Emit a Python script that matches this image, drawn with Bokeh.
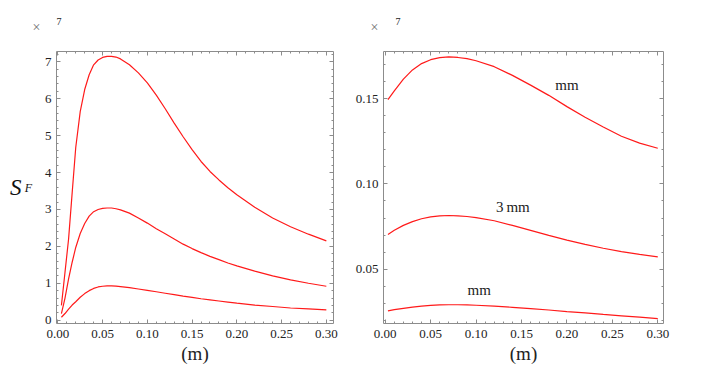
from bokeh.plotting import figure
from bokeh.layouts import row
from bokeh.models import (Range1d, LinearAxis, SingleIntervalTicker, NumeralTickFormatter,
                          CustomJSTickFormatter, Label, Title)
from bokeh.embed import file_html
from bokeh.resources import INLINE

# ---------------- data ----------------
x_left = [0.004, 0.008, 0.012, 0.016, 0.020, 0.025, 0.030, 0.035, 0.040, 0.045, 0.050, 0.055,
          0.060, 0.065, 0.070, 0.080, 0.090, 0.100, 0.110, 0.120, 0.130, 0.140, 0.150, 0.160,
          0.170, 0.180, 0.190, 0.200, 0.220, 0.240, 0.260, 0.280, 0.300]
sf_top = [0.40, 1.30, 2.20, 3.45, 4.68, 5.65, 6.25, 6.65, 6.92, 7.05, 7.12, 7.15,
          7.15, 7.13, 7.08, 6.92, 6.70, 6.43, 6.10, 5.73, 5.34, 4.97, 4.62, 4.30,
          4.03, 3.80, 3.59, 3.40, 3.06, 2.77, 2.53, 2.33, 2.15]
sf_mid = [0.18, 0.60, 1.12, 1.57, 1.97, 2.35, 2.62, 2.82, 2.94, 3.00, 3.03, 3.04,
          3.04, 3.02, 2.99, 2.90, 2.77, 2.63, 2.48, 2.34, 2.20, 2.06, 1.94, 1.83,
          1.73, 1.64, 1.55, 1.47, 1.33, 1.20, 1.09, 1.00, 0.92]
sf_bot = [0.08, 0.18, 0.30, 0.41, 0.50, 0.62, 0.72, 0.80, 0.86, 0.90, 0.92, 0.93,
          0.93, 0.925, 0.91, 0.88, 0.845, 0.81, 0.77, 0.73, 0.69, 0.65, 0.62, 0.58,
          0.55, 0.52, 0.49, 0.46, 0.41, 0.37, 0.33, 0.305, 0.28]

x_right = [0.003, 0.01, 0.02, 0.03, 0.04, 0.05, 0.06, 0.07, 0.08, 0.09, 0.10, 0.12, 0.14,
           0.16, 0.18, 0.20, 0.22, 0.24, 0.26, 0.28, 0.30]
r_top = [0.1494, 0.1545, 0.1614, 0.1668, 0.1705, 0.1728, 0.1740, 0.1744, 0.1741, 0.1734,
         0.1722, 0.1687, 0.1636, 0.1579, 0.1519, 0.1453, 0.1391, 0.1334, 0.1279, 0.1239, 0.1209]
r_mid = [0.0704, 0.0728, 0.0757, 0.0779, 0.0796, 0.0807, 0.0813, 0.0815, 0.0813, 0.0809,
         0.0802, 0.0784, 0.0757, 0.0728, 0.0698, 0.0671, 0.0646, 0.0623, 0.0603, 0.0587, 0.0572]
r_bot = [0.0256, 0.0263, 0.0271, 0.0278, 0.0284, 0.0288, 0.0291, 0.0292, 0.0292, 0.0291,
         0.0289, 0.0284, 0.0277, 0.0269, 0.0261, 0.0252, 0.0244, 0.0235, 0.0227, 0.0219, 0.0210]

curve_labels = ["mm", "3\u2009mm", "mm"]
label_x = [0.200, 0.1405, 0.1034]
label_y = [0.158, 0.0862, 0.0376]

SERIF = "'Liberation Serif', serif"
FRAME = "#8c8c8c"
EMPTY = CustomJSTickFormatter(code="return ''")


def style(p, xint, yint, yfmt):
    p.background_fill_color = "white"
    p.border_fill_color = "white"
    p.outline_line_color = FRAME
    p.outline_line_width = 1
    p.grid.visible = False
    p.add_layout(LinearAxis(), "above")
    p.add_layout(LinearAxis(), "right")
    for ax in p.xaxis:
        ax.ticker = SingleIntervalTicker(interval=xint, num_minor_ticks=5)
    for ax in p.yaxis:
        ax.ticker = SingleIntervalTicker(interval=yint, num_minor_ticks=5)
    for ax in p.axis:
        ax.axis_line_color = None
        ax.major_tick_line_color = FRAME
        ax.minor_tick_line_color = FRAME
        ax.major_tick_in = 4
        ax.major_tick_out = 0
        ax.minor_tick_in = 2
        ax.minor_tick_out = 0
        ax.major_label_text_font = SERIF
        ax.major_label_text_font_size = "13px"
        ax.major_label_text_color = "#222222"
        ax.major_label_standoff = 5
    p.below[0].formatter = NumeralTickFormatter(format="0.00")
    p.below[0].major_label_standoff = 6
    p.left[0].formatter = yfmt
    p.above[0].formatter = EMPTY
    p.above[0].major_label_standoff = 0
    p.right[0].formatter = EMPTY
    xa = p.below[0]
    xa.axis_label = "(m)"
    xa.axis_label_text_font = SERIF
    xa.axis_label_text_font_style = "normal"
    xa.axis_label_text_font_size = "19px"
    xa.axis_label_text_color = "#222222"
    xa.axis_label_standoff = 2


def scale_titles(p, off_cross, off_seven):
    p.add_layout(Title(text="\u00d7", align="left", offset=off_cross, text_font=SERIF,
                       text_font_size="14px", text_font_style="normal",
                       text_color="#6e6e6e", standoff=34), "above")
    p.add_layout(Title(text="7", align="left", offset=off_seven, text_font=SERIF,
                       text_font_size="10px", text_font_style="normal",
                       text_color="#222222", standoff=-48), "above")


# ---------------- left panel ----------------
p1 = figure(width=350, height=374, output_backend="svg", toolbar_location=None, title=None,
            x_range=Range1d(-0.0015, 0.308), y_range=Range1d(-0.09, 7.28),
            min_border_left=56, min_border_right=17, min_border_top=47, min_border_bottom=51)
style(p1, 0.05, 1, NumeralTickFormatter(format="0"))
for ys in (sf_top, sf_mid, sf_bot):
    p1.line(x_left, ys, line_color="#ff1a1a", line_width=1.2)
ya = p1.left[0]
ya.axis_label = "F"
ya.axis_label_orientation = "horizontal"
ya.axis_label_text_font = SERIF
ya.axis_label_text_font_style = "italic"
ya.axis_label_text_font_size = "12px"
ya.axis_label_text_color = "#111111"
ya.axis_label_text_baseline = "top"
ya.axis_label_standoff = 10
s_axis = LinearAxis(axis_label="S", axis_label_orientation="horizontal",
                    axis_label_text_font=SERIF, axis_label_text_font_style="italic",
                    axis_label_text_font_size="23px", axis_label_text_color="#111111",
                    axis_label_text_baseline="middle",
                    axis_label_standoff=0, major_label_standoff=0, formatter=EMPTY,
                    axis_line_color=None, major_tick_line_color=None,
                    minor_tick_line_color=None, major_tick_in=0, major_tick_out=0,
                    minor_tick_in=0, minor_tick_out=0)
p1.add_layout(s_axis, "left")
scale_titles(p1, -24, 0)

# ---------------- right panel ----------------
p2 = figure(width=348, height=374, output_backend="svg", toolbar_location=None, title=None,
            x_range=Range1d(-0.0019, 0.3063), y_range=Range1d(0.0182, 0.1776),
            min_border_left=33, min_border_right=35, min_border_top=47, min_border_bottom=49)
style(p2, 0.05, 0.05, NumeralTickFormatter(format="0.00"))
for ys in (r_top, r_mid, r_bot):
    p2.line(x_right, ys, line_color="#ff1a1a", line_width=1.2)
for t, lx, ly in zip(curve_labels, label_x, label_y):
    p2.add_layout(Label(x=lx, y=ly, text=t, text_font=SERIF, text_font_size="15px",
                        text_color="#222222", text_align="center", text_baseline="middle"))
scale_titles(p2, -13, 12)

layout = row(p1, p2)
open("out.html", "w").write(file_html(layout, INLINE))
